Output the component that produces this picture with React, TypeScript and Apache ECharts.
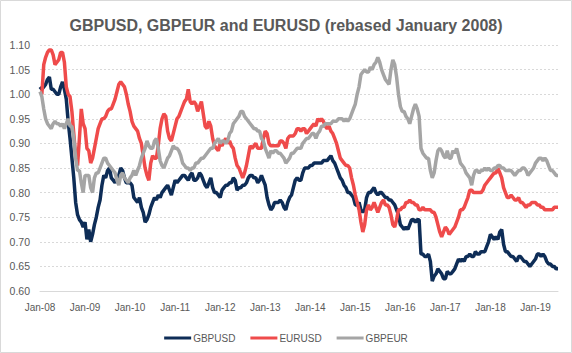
import React, { useEffect, useRef } from "react";
import * as echarts from "echarts";

// Half-monthly readings, index 0 = start of Jan 2008 (rebased January 2008 = 1.00)
const yearLabels = ["Jan-08", "Jan-09", "Jan-10", "Jan-11", "Jan-12", "Jan-13", "Jan-14", "Jan-15", "Jan-16", "Jan-17", "Jan-18", "Jan-19"];
const monthsPerStep = 0.5;
const axisMaxMonths = 138;

const gbpusd = [
  1.015, 1.01, 1.015, 1.02, 1.03, 1.035, 1.01, 1.01, 1.005, 1.0,
  1.0, 1.015, 1.025, 1.01, 0.99, 0.945, 0.91, 0.87, 0.83, 0.78,
  0.755, 0.745, 0.74, 0.73, 0.74, 0.705, 0.725, 0.7, 0.715, 0.735,
  0.75, 0.77, 0.785, 0.815, 0.835, 0.83, 0.845, 0.85, 0.83, 0.825,
  0.82, 0.83, 0.835, 0.85, 0.845, 0.83, 0.82, 0.82, 0.82, 0.815,
  0.79, 0.785, 0.78, 0.79, 0.77, 0.76, 0.74, 0.745, 0.755, 0.77,
  0.78, 0.79, 0.785, 0.795, 0.79, 0.8, 0.805, 0.81, 0.815, 0.805,
  0.795, 0.81, 0.825, 0.82, 0.825, 0.83, 0.835, 0.835, 0.83, 0.825,
  0.835, 0.84, 0.825, 0.825, 0.83, 0.84, 0.835, 0.825, 0.815, 0.81,
  0.82, 0.83, 0.81, 0.8, 0.8, 0.795, 0.79, 0.805, 0.81, 0.815,
  0.815, 0.82, 0.82, 0.83, 0.825, 0.805, 0.81, 0.81, 0.815, 0.815,
  0.82, 0.83, 0.835, 0.835, 0.83, 0.83, 0.82, 0.825, 0.835, 0.825,
  0.815, 0.79, 0.775, 0.765, 0.77, 0.78, 0.78, 0.78, 0.785, 0.78,
  0.77, 0.765, 0.78, 0.79, 0.795, 0.81, 0.825, 0.83, 0.825, 0.825,
  0.84, 0.85, 0.85, 0.85, 0.855, 0.855, 0.86, 0.86, 0.86, 0.86,
  0.86, 0.865, 0.865, 0.865, 0.87, 0.875, 0.865, 0.86, 0.85, 0.84,
  0.83, 0.825, 0.815, 0.81, 0.8, 0.8, 0.795, 0.79, 0.775, 0.775,
  0.78, 0.765, 0.76, 0.765, 0.79, 0.8, 0.8, 0.805, 0.81, 0.8,
  0.795, 0.8, 0.8, 0.795, 0.79, 0.79, 0.785, 0.785, 0.78, 0.775,
  0.765, 0.755, 0.735, 0.73, 0.725, 0.73, 0.725, 0.735, 0.745, 0.745,
  0.74, 0.745, 0.745, 0.675, 0.675, 0.67, 0.67,
  0.675, 0.66, 0.62, 0.63, 0.635, 0.645, 0.64, 0.635, 0.625, 0.625,
  0.64, 0.635, 0.635, 0.64, 0.645, 0.655, 0.665, 0.66, 0.665, 0.66,
  0.67, 0.67, 0.675, 0.67, 0.67, 0.68, 0.675, 0.675, 0.68, 0.68,
  0.68, 0.69, 0.7, 0.715, 0.71, 0.705, 0.71, 0.705, 0.72, 0.725,
  0.695, 0.68, 0.68, 0.675, 0.67, 0.67, 0.665, 0.66, 0.67, 0.67,
  0.665, 0.66, 0.66, 0.655, 0.65, 0.655, 0.66, 0.665, 0.675, 0.675,
  0.67, 0.675, 0.67, 0.66, 0.655, 0.655, 0.65, 0.65, 0.645, 0.645,
];

const eurusd = [
  1.0, 1.0, 1.06, 1.075, 1.085, 1.09, 1.09, 1.08, 1.06, 1.065,
  1.07, 1.085, 1.085, 1.065, 1.015, 1.0, 0.995, 0.965, 0.92, 0.875,
  0.855, 0.91, 0.97, 0.94, 0.93, 0.89, 0.885, 0.86, 0.87, 0.89,
  0.91, 0.93, 0.94, 0.95, 0.95, 0.955, 0.965, 0.97, 0.97, 0.98,
  0.99, 1.005, 1.02, 1.025, 1.02, 1.015, 1.0, 0.98, 0.965, 0.945,
  0.935, 0.93, 0.925, 0.91, 0.9, 0.875, 0.85, 0.835, 0.825, 0.86,
  0.875, 0.87, 0.87, 0.895, 0.93, 0.95, 0.96, 0.955, 0.925, 0.91,
  0.905, 0.92, 0.935, 0.95, 0.955, 0.965, 0.975, 0.985, 0.99, 1.01,
  0.985, 0.98, 0.985, 0.98, 0.965, 0.975, 0.985, 0.96, 0.935, 0.93,
  0.945, 0.935, 0.91, 0.895, 0.89, 0.885, 0.9, 0.895, 0.905, 0.91,
  0.9, 0.905, 0.895, 0.89, 0.87, 0.855, 0.85, 0.84, 0.83, 0.84,
  0.855, 0.875, 0.895, 0.89, 0.895, 0.9, 0.89, 0.89, 0.89, 0.91,
  0.925, 0.92, 0.9, 0.895, 0.895, 0.895, 0.895, 0.895, 0.905, 0.905,
  0.9, 0.89, 0.91, 0.915, 0.915, 0.915, 0.92, 0.93, 0.93, 0.925,
  0.93, 0.93, 0.92, 0.925, 0.93, 0.935, 0.94, 0.935, 0.95, 0.945,
  0.95, 0.945, 0.935, 0.93, 0.935, 0.925, 0.92, 0.91, 0.9, 0.885,
  0.87, 0.865, 0.86, 0.855, 0.855, 0.85, 0.83, 0.815, 0.795, 0.78,
  0.765, 0.74, 0.72, 0.735, 0.765, 0.775, 0.765, 0.77, 0.78, 0.77,
  0.76, 0.77, 0.78, 0.785, 0.775, 0.775, 0.77, 0.755, 0.735, 0.73,
  0.745, 0.765, 0.765, 0.77, 0.77, 0.78, 0.78, 0.785, 0.78, 0.78,
  0.775, 0.775, 0.765, 0.765, 0.77, 0.765, 0.765,
  0.765, 0.765, 0.76, 0.76, 0.75, 0.735, 0.72, 0.71, 0.72, 0.73,
  0.725, 0.715, 0.72, 0.725, 0.73, 0.74, 0.75, 0.765, 0.765, 0.77,
  0.78, 0.79, 0.805, 0.805, 0.8, 0.8, 0.8, 0.8, 0.8, 0.805,
  0.815, 0.82, 0.825, 0.83, 0.835, 0.84, 0.84, 0.85, 0.84, 0.83,
  0.81, 0.8, 0.79, 0.79, 0.795, 0.79, 0.785, 0.785, 0.79, 0.78,
  0.78, 0.775, 0.77, 0.775, 0.775, 0.78, 0.78, 0.78, 0.775, 0.775,
  0.77, 0.77, 0.765, 0.765, 0.765, 0.765, 0.765, 0.77, 0.77, 0.77,
];

const gbpeur = [
  1.005, 0.995, 0.97, 0.95, 0.94, 0.935, 0.93, 0.94, 0.945, 0.94,
  0.94, 0.935, 0.94, 0.93, 0.94, 0.95, 0.935, 0.935, 0.91, 0.87,
  0.845, 0.845, 0.82, 0.8, 0.835, 0.835, 0.835, 0.81, 0.8, 0.83,
  0.84, 0.84, 0.85, 0.86, 0.87, 0.87, 0.86, 0.855, 0.85, 0.845,
  0.84, 0.825, 0.815, 0.835, 0.84, 0.83, 0.825, 0.82, 0.83, 0.835,
  0.845, 0.835, 0.845, 0.855, 0.87, 0.88, 0.89, 0.905, 0.895, 0.89,
  0.89, 0.905, 0.91, 0.89, 0.865, 0.855, 0.85, 0.86, 0.87, 0.875,
  0.885, 0.895, 0.89, 0.89, 0.885, 0.875, 0.86, 0.855, 0.85, 0.85,
  0.845, 0.85, 0.85, 0.86, 0.86, 0.865, 0.87, 0.87, 0.875, 0.88,
  0.885, 0.89, 0.89, 0.9, 0.905, 0.91, 0.9, 0.905, 0.905, 0.9,
  0.905, 0.92, 0.925, 0.94, 0.945, 0.95, 0.955, 0.965, 0.965, 0.955,
  0.95, 0.945, 0.94, 0.935, 0.93, 0.93, 0.925, 0.925, 0.91, 0.905,
  0.89, 0.88, 0.87, 0.885, 0.88, 0.885, 0.885, 0.88, 0.88, 0.875,
  0.87, 0.86, 0.865, 0.87, 0.88, 0.88, 0.885, 0.89, 0.89, 0.89,
  0.9, 0.905, 0.91, 0.91, 0.915, 0.92, 0.92, 0.91, 0.92, 0.925,
  0.935, 0.935, 0.94, 0.94, 0.94, 0.94, 0.945, 0.945, 0.945, 0.95,
  0.95, 0.95, 0.945, 0.95, 0.945, 0.95, 0.96, 0.97, 0.98, 1.0,
  1.015, 1.04, 1.045, 1.05, 1.045, 1.045, 1.055, 1.05, 1.06, 1.065,
  1.075, 1.065, 1.05, 1.04, 1.03, 1.025, 1.02, 1.05, 1.07, 1.06,
  1.035, 1.0, 0.975, 0.965, 0.965, 0.955, 0.95, 0.94, 0.955, 0.97,
  0.98, 0.97, 0.955, 0.89, 0.88, 0.875, 0.87,
  0.87, 0.845, 0.83, 0.84, 0.865, 0.885, 0.89, 0.885, 0.875, 0.87,
  0.885, 0.87, 0.87, 0.885, 0.88, 0.89, 0.875, 0.86, 0.855, 0.85,
  0.84, 0.835, 0.83, 0.815, 0.835, 0.845, 0.845, 0.84, 0.845, 0.845,
  0.85, 0.845, 0.85, 0.845, 0.845, 0.85, 0.85, 0.855, 0.855, 0.85,
  0.85, 0.845, 0.845, 0.845, 0.845, 0.84, 0.835, 0.84, 0.845, 0.845,
  0.85, 0.85, 0.845, 0.835, 0.84, 0.845, 0.85, 0.86, 0.865, 0.87,
  0.87, 0.865, 0.87, 0.865, 0.855, 0.845, 0.845, 0.84, 0.835, 0.835,
];

const seriesNames = ["GBPUSD", "EURUSD", "GBPEUR"];
const seriesColors = ["#0E2D57", "#EF4B4B", "#A5A5A5"];
const seriesValues = [gbpusd, eurusd, gbpeur];

export default function App() {
  const ref = useRef<HTMLDivElement>(null);

  useEffect(() => {
    if (!ref.current) return;
    const chart = echarts.init(ref.current, undefined, { renderer: "svg" });
    const font = "'Liberation Sans', Arial, sans-serif";
    const textColor = "#595959";

    chart.setOption({
      animation: false,
      backgroundColor: "#ffffff",
      graphic: [
        {
          type: "rect",
          silent: true,
          z: 100,
          shape: { x: 0.5, y: 0.5, width: 571, height: 352 },
          style: { fill: "none", stroke: "#D9D9D9", lineWidth: 1 },
        },
      ],
      title: {
        text: "GBPUSD, GBPEUR and EURUSD (rebased January 2008)",
        left: "center",
        top: 12,
        textStyle: { fontFamily: font, fontSize: 16, fontWeight: "bold", color: textColor },
      },
      legend: {
        data: seriesNames.map((n) => ({ name: n, icon: "rect" })),
        bottom: 5,
        left: "center",
        itemWidth: 27,
        itemHeight: 3,
        itemGap: 15,
        textStyle: { fontFamily: font, fontSize: 10, color: textColor, padding: [0, 0, 0, -3] },
      },
      grid: { left: 40, right: 14, top: 45, bottom: 62, containLabel: false },
      xAxis: {
        type: "value",
        min: 0,
        max: axisMaxMonths,
        interval: 12,
        axisLine: { show: true, lineStyle: { color: "#D9D9D9", width: 1 } },
        axisTick: { show: false },
        splitLine: { show: false },
        axisLabel: {
          fontFamily: font,
          fontSize: 10,
          color: textColor,
          margin: 11,
          formatter: (v: number) => yearLabels[Math.round(v / 12)] ?? "",
        },
      },
      yAxis: {
        type: "value",
        min: 0.6,
        max: 1.1,
        interval: 0.05,
        axisLine: { show: false },
        axisTick: { show: false },
        splitLine: { show: true, lineStyle: { color: "#D9D9D9", type: [2, 2], width: 1 } },
        axisLabel: {
          fontFamily: font,
          fontSize: 10.5,
          color: textColor,
          margin: 10,
          formatter: (v: number) => v.toFixed(2),
        },
      },
      series: seriesNames.map((name, k) => ({
        name,
        type: "line",
        showSymbol: false,
        symbol: "none",
        data: seriesValues[k].map((v, i) => [i * monthsPerStep, v]),
        lineStyle: { color: seriesColors[k], width: 3.5 },
        itemStyle: { color: seriesColors[k] },
        z: 2 + k,
      })),
    });

    return () => chart.dispose();
  }, []);

  return <div ref={ref} style={{ position: "absolute", left: 0, top: 0, width: 572, height: 353 }} />;
}
